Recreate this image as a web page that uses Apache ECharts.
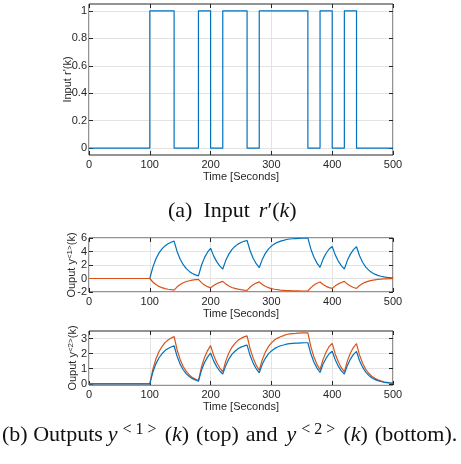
<!DOCTYPE html>
<html>
<head>
<meta charset="utf-8">
<script src="https://cdn.jsdelivr.net/npm/echarts@6/dist/echarts.min.js"></script>
<style>
  html, body { margin: 0; padding: 0; background: #fff; }
  #main { width: 461px; height: 464px; }
</style>
</head>
<body>
<div id="main"></div>
<script>
// input r'(k): level held from each switch time to the next one
var switchTimes = [0, 100, 140, 180, 200, 220, 260, 280, 360, 380, 400, 420, 440, 500];
var inputLevels = [0, 1, 0, 1, 0, 1, 0, 1, 0, 1, 0, 1, 0, 0];

// sample times for the outputs: 0, then every 5 s from 100 to 500
var sampleTimes = [0];
for (var t = 100; t <= 500; t += 5) sampleTimes.push(t);

// y<1>(k), first and second component
var y1Blue = [0, 0,
  1.69, 2.90, 3.76, 4.38, 4.83, 5.14, 5.37, 5.54,
  3.97, 2.84, 2.04, 1.46, 1.05, 0.75, 0.54, 0.38,
  1.96, 3.09, 3.90, 4.48,
  3.35, 2.50, 1.87, 1.40,
  2.69, 3.61, 4.28, 4.75, 5.09, 5.33, 5.51, 5.63,
  4.11, 3.00, 2.19, 1.60,
  2.83, 3.72, 4.35, 4.80, 5.13, 5.36, 5.53, 5.65, 5.78, 5.85, 5.89, 5.92, 5.94, 5.96, 5.97, 5.98,
  4.34, 3.14, 2.28, 1.65,
  2.87, 3.74, 4.37, 4.75,
  3.50, 2.58, 1.90, 1.40,
  2.69, 3.61, 4.28, 4.70,
  3.37, 2.41, 1.73, 1.24, 0.89, 0.64, 0.46, 0.33, 0.23, 0.17, 0.12, 0.09];
var y1Orange = [0, 0,
  -0.52, -0.90, -1.17, -1.36, -1.50, -1.59, -1.66, -1.72,
  -1.23, -0.88, -0.63, -0.45, -0.33, -0.23, -0.17, -0.12,
  -0.61, -0.96, -1.21, -1.39,
  -1.04, -0.78, -0.58, -0.43,
  -0.83, -1.12, -1.33, -1.47, -1.58, -1.65, -1.71, -1.75,
  -1.27, -0.93, -0.68, -0.50,
  -0.88, -1.15, -1.35, -1.49, -1.59, -1.66, -1.71, -1.75, -1.79, -1.81, -1.83, -1.84, -1.84, -1.85, -1.85, -1.85,
  -1.35, -0.97, -0.71, -0.51,
  -0.89, -1.16, -1.35, -1.47,
  -1.09, -0.80, -0.59, -0.43,
  -0.83, -1.12, -1.33, -1.46,
  -1.04, -0.75, -0.54, -0.38, -0.28, -0.20, -0.14, -0.10, -0.07, -0.05, -0.04, -0.03];

// y<2>(k)
var y2Blue = [0, 0,
  0.77, 1.32, 1.71, 1.99, 2.20, 2.34, 2.44, 2.52,
  1.81, 1.29, 0.93, 0.66, 0.48, 0.34, 0.25, 0.17,
  0.89, 1.41, 1.77, 2.04,
  1.52, 1.14, 0.85, 0.64,
  1.22, 1.64, 1.95, 2.16, 2.32, 2.43, 2.51, 2.56,
  1.87, 1.37, 1.00, 0.73,
  1.29, 1.69, 1.98, 2.18, 2.33, 2.44, 2.52, 2.57, 2.63, 2.66, 2.68, 2.69, 2.70, 2.71, 2.72, 2.72,
  1.97, 1.43, 1.04, 0.75,
  1.31, 1.70, 1.99, 2.16,
  1.59, 1.17, 0.86, 0.64,
  1.22, 1.64, 1.95, 2.14,
  1.53, 1.10, 0.79, 0.56, 0.40, 0.29, 0.21, 0.15, 0.10, 0.08, 0.05, 0.04];
var y2Orange = [0, 0,
  0.95, 1.64, 2.12, 2.47, 2.73, 2.90, 3.03, 3.13,
  2.24, 1.60, 1.15, 0.82, 0.59, 0.42, 0.31, 0.21,
  1.11, 1.75, 2.20, 2.53,
  1.89, 1.41, 1.06, 0.79,
  1.52, 2.04, 2.42, 2.68, 2.88, 3.01, 3.11, 3.18,
  2.32, 1.70, 1.24, 0.90,
  1.60, 2.10, 2.46, 2.71, 2.90, 3.03, 3.12, 3.19, 3.27, 3.31, 3.33, 3.34, 3.36, 3.37, 3.37, 3.38,
  2.45, 1.77, 1.29, 0.93,
  1.62, 2.11, 2.47, 2.68,
  1.98, 1.46, 1.07, 0.79,
  1.52, 2.04, 2.42, 2.66,
  1.90, 1.36, 0.98, 0.70, 0.50, 0.36, 0.26, 0.19, 0.13, 0.10, 0.07, 0.05];

var inputTicks = [0, 0.2, 0.4, 0.6, 0.8, 1];
var out2Ticks = [0, 1, 2, 3];

var BLUE = '#0072BD', ORANGE = '#D95319';
var INK = '#262626', GRID = '#e3e3e3';
var SANS = '"Liberation Sans", Arial, sans-serif';
var SERIF = '"Liberation Serif", "Times New Roman", serif';

function pairs(xs, ys) {
  var out = [];
  for (var i = 0; i < xs.length; i++) out.push([xs[i], ys[i]]);
  return out;
}

var grids = [
  { left: 89, width: 304, top: 4, height: 151 },
  { left: 89, width: 304, top: 238, height: 54 },
  { left: 89, width: 304, top: 331, height: 54 }
];
grids.forEach(function (g) {
  g.show = true; g.borderColor = INK; g.borderWidth = 1; g.backgroundColor = 'transparent';
});

var tickStyle = { show: true, inside: true, length: 4, lineStyle: { color: INK, width: 1 } };
var noLine = { show: false, onZero: false };

var xAxes = [], yAxes = [];
for (var g = 0; g < 3; g++) {
  xAxes.push({
    type: 'value', gridIndex: g, position: 'bottom', min: 0, max: 500, interval: 100,
    name: 'Time [Seconds]', nameLocation: 'middle', nameGap: 16, nameMoveOverlap: false,
    nameTextStyle: { fontFamily: SANS, fontSize: 11, color: INK },
    axisLine: noLine,
    axisTick: tickStyle,
    axisLabel: { fontFamily: SANS, fontSize: 11, color: INK, margin: 4 },
    splitLine: { show: true, lineStyle: { color: GRID, width: 1 } }
  });
  // mirrored ticks on top edge
  xAxes.push({
    type: 'value', gridIndex: g, position: 'top', min: 0, max: 500, interval: 100,
    axisLine: noLine, axisLabel: { show: false }, splitLine: { show: false },
    axisTick: tickStyle
  });
}

var yDefs = [
  { min: -0.05, max: 1.05, ticks: inputTicks, name: "Input r'(k)", gap: 16 },
  { min: -2, max: 6, interval: 2, name: 'Ouput y{sup|<1>}(k)', gap: 11 },
  { min: -0.08, max: 3.5, ticks: out2Ticks, name: 'Ouput y{sup|<2>}(k)', gap: 10 }
];
yDefs.forEach(function (d, g) {
  var left = {
    type: 'value', gridIndex: g, position: 'left', min: d.min, max: d.max,
    name: d.name, nameLocation: 'middle', nameGap: d.gap, nameRotate: 90, nameMoveOverlap: false,
    nameTextStyle: {
      fontFamily: SANS, fontSize: 11, color: INK,
      rich: { sup: { fontFamily: SANS, fontSize: 8, color: INK, verticalAlign: 'top', padding: [0, 0, 4, 0] } }
    },
    axisLine: noLine,
    axisTick: tickStyle,
    axisLabel: { fontFamily: SANS, fontSize: 11, color: INK, margin: 2 },
    splitLine: { show: true, lineStyle: { color: GRID, width: 1 } }
  };
  var right = {
    type: 'value', gridIndex: g, position: 'right', min: d.min, max: d.max,
    axisLine: noLine, axisLabel: { show: false }, splitLine: { show: false },
    axisTick: tickStyle
  };
  if (d.ticks) {
    left.axisTick = Object.assign({ customValues: d.ticks }, tickStyle);
    left.axisLabel.customValues = d.ticks;
    right.axisTick = Object.assign({ customValues: d.ticks }, tickStyle);
  } else {
    left.interval = d.interval;
    right.interval = d.interval;
  }
  yAxes.push(left, right);
});

function line(name, data, color, gi, step) {
  return {
    name: name, type: 'line', xAxisIndex: gi * 2, yAxisIndex: gi * 2,
    data: data, step: step || false, showSymbol: false, symbol: 'none',
    lineStyle: { color: color, width: 1.2 }, z: 3, silent: true
  };
}

var capN = { fontFamily: SERIF, fontSize: 22, fill: '#111', lineHeight: 26 };
var capI = Object.assign({}, capN, { fontStyle: 'italic' });
var capSup = { fontFamily: SERIF, fontSize: 16, fill: '#111', verticalAlign: 'top', lineHeight: 16, padding: [0, 8, 0, 5] };

var chart = echarts.init(document.getElementById('main'), null, { renderer: 'canvas' });
chart.setOption({
  animation: false,
  backgroundColor: '#fff',
  grid: grids,
  xAxis: xAxes,
  yAxis: yAxes,
  series: [
    line('r', pairs(switchTimes, inputLevels), BLUE, 0, 'end'),
    line('y1a', pairs(sampleTimes, y1Blue), BLUE, 1),
    line('y1b', pairs(sampleTimes, y1Orange), ORANGE, 1),
    line('y2o', pairs(sampleTimes, y2Orange), ORANGE, 2),
    line('y2b', pairs(sampleTimes, y2Blue), BLUE, 2)
  ],
  graphic: [
    {
      type: 'text', left: 168, top: 200,
      style: {
        text: '{a|(a)}{p1|Input}{i2|r}{n|′(}{i|k}{n|)}',
        rich: {
          a: capN,
          p1: Object.assign({}, capN, { padding: [0, 0, 0, 11] }),
          i2: Object.assign({}, capI, { padding: [0, 0, 0, 9] }),
          n: capN,
          i: capI
        }
      }
    },
    {
      type: 'text', left: 2, top: 422,
      style: {
        text: '{n|(b) Outputs}{iy|y}{s|< 1 >}{n|(}{i|k}{n|)}' +
              '{w7|(top)}{w7|and}{iy9|y}{s|< 2 >}{n|(}{i|k}{n|)}{w7|(bottom).}',
        rich: {
          n: capN,
          i: capI,
          iy: Object.assign({}, capI, { padding: [0, 0, 0, 5] }),
          iy9: Object.assign({}, capI, { padding: [0, 0, 0, 9] }),
          w7: Object.assign({}, capN, { padding: [0, 0, 0, 7] }),
          s: capSup
        }
      }
    }
  ]
});
</script>
</body>
</html>
